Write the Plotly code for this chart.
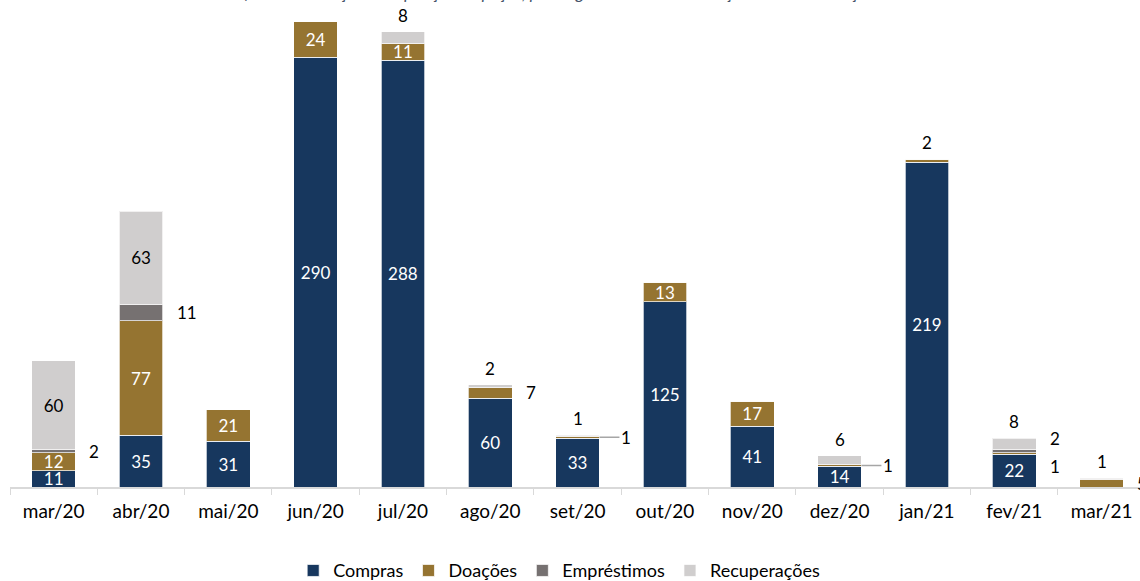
import plotly.graph_objects as go

categories = ["mar/20", "abr/20", "mai/20", "jun/20", "jul/20", "ago/20", "set/20",
              "out/20", "nov/20", "dez/20", "jan/21", "fev/21", "mar/21"]
compras = [11, 35, 31, 290, 288, 60, 33, 125, 41, 14, 219, 22, 0]
doacoes = [12, 77, 21, 24, 11, 7, 1, 13, 17, 1, 2, 1, 5]
emprestimos = [2, 11, 0, 0, 0, 0, 0, 0, 0, 0, 0, 2, 0]
recuperacoes = [60, 63, 0, 0, 8, 2, 1, 0, 0, 6, 0, 8, 1]

series_names = ["Compras", "Doações", "Empréstimos", "Recuperações"]
series_values = [compras, doacoes, emprestimos, recuperacoes]
colors = ["#17375E", "#957431", "#767171", "#D0CECE"]
inside_font_colors = ["#FFFFFF", "#FFFFFF", "#FFFFFF", "#000000"]

title_text = "Gráfico 3 – Evolução da aquisição de peças, por origem – mensal de março de 2020 a março de 2021"

FONT = "Lato"
INSIDE_MIN = 10  # segments at least this big get an inside label

fig = go.Figure()
for s, (name, vals) in enumerate(zip(series_names, series_values)):
    texts = []
    for v in vals:
        if v > 0 and s != 2 and v >= INSIDE_MIN:
            texts.append(str(v))
        else:
            texts.append("")
    fig.add_trace(go.Bar(
        name=name, x=categories, y=vals,
        marker=dict(color=colors[s], line=dict(color="rgba(255,255,255,0.7)", width=1)),
        text=texts, textposition="inside", insidetextanchor="middle",
        constraintext="none", textangle=0,
        insidetextfont=dict(family=FONT, size=17, color=inside_font_colors[s]),
        hoverinfo="x+y+name",
    ))

# outside labels
annotations = []
half_w = 0.25
for i, cat in enumerate(categories):
    vals = [sv[i] for sv in series_values]
    total = sum(vals)
    top_s = max([s for s in range(4) if vals[s] > 0])
    rights = []
    cum = 0
    for s in range(4):
        v = vals[s]
        if v > 0:
            small = (s == 2) or v < INSIDE_MIN
            if small:
                if s == top_s and s != 2:
                    annotations.append(dict(
                        x=i, y=total, text=str(v), showarrow=False,
                        xanchor="center", yanchor="bottom", yshift=4,
                        font=dict(family=FONT, size=17, color="#000000")))
                else:
                    rights.append((s, cum + v / 2.0, v))
        cum += v
    n = len(rights)
    for k, (s, yc, v) in enumerate(rights):
        yshift = 0
        if n > 1:
            yshift = (k - (n - 1) / 2.0) * 26
        if n == 1 and v <= 1 and s == 1:
            annotations.append(dict(
                x=i + half_w, y=yc, text=str(v), showarrow=True, arrowhead=0,
                arrowwidth=1.5, arrowcolor="#A6A6A6", ax=20, ay=0, xanchor="left",
                font=dict(family=FONT, size=17, color="#000000")))
        else:
            annotations.append(dict(
                x=i + half_w, y=yc, text=str(v), showarrow=False,
                xanchor="left", yanchor="middle", xshift=12, yshift=yshift,
                font=dict(family=FONT, size=17, color="#000000")))

annotations.append(dict(
    x=0.5, y=1, xref="paper", yref="paper", text=title_text, showarrow=False,
    xanchor="center", yanchor="bottom", yshift=-5,
    font=dict(family=FONT, size=17, color="#44546A", style="italic")))

fig.update_layout(
    barmode="stack", bargap=0.5,
    width=1140, height=581,
    margin=dict(l=10, r=0, t=0, b=94, autoexpand=False),
    paper_bgcolor="white", plot_bgcolor="white",
    font=dict(family=FONT, size=17, color="#000000"),
    showlegend=True,
    legend=dict(orientation="h", x=0.486, xanchor="center", y=-0.172, yanchor="middle",
                font=dict(family=FONT, size=18, color="#000000"), traceorder="normal",
                itemwidth=30),
    annotations=annotations,
    xaxis=dict(type="category", range=[-0.5, 12.44], showline=True, linecolor="#D9D9D9",
               linewidth=1.5, ticks="outside", ticklen=6, tickcolor="#D9D9D9",
               tickson="boundaries", showgrid=False, ticklabelstandoff=6,
               automargin=False,
               tickfont=dict(family=FONT, size=19, color="#000000")),
    yaxis=dict(range=[0, 328.5], visible=False, showgrid=False, zeroline=False),
)

fig.write_html("out.html", config={"displayModeBar": False},
               post_script="document.body.style.margin='0';document.body.style.overflow='hidden';")
